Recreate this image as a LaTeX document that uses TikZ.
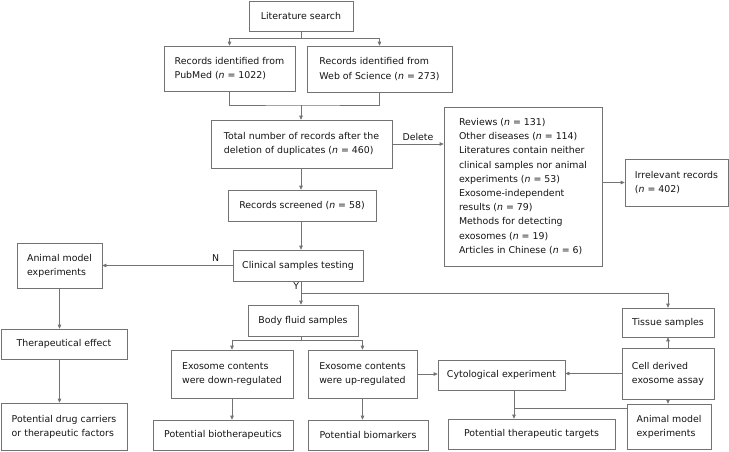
\documentclass[tikz,border=0pt]{standalone}
\usepackage{fontspec}
\setmainfont{DejaVu Sans}
\usetikzlibrary{arrows.meta}

\tikzset{
	box/.style={draw=black!55, line width=0.6pt, align=left, inner sep=2pt, text=black!92},
	flow/.style={-{Triangle[length=4pt,width=3.5pt]}},
}
\newcommand{\nn}{\textit{n}}

\begin{document}
\begin{tikzpicture}[x=1pt, y=-1pt, line width=0.6pt, draw=black!55,
	font=\fontsize{9.4}{14.2}\selectfont]
	\useasboundingbox (0,0) rectangle (729,451);
	% top part
	\node[box, minimum width=104, minimum height=30] (lit) at (301,16) {Literature search};
	\node[box, minimum width=131, minimum height=45] (pub) at (229.5,68.5) {Records identified from\\PubMed (\nn{} = 1022)};
	\node[box, minimum width=145, minimum height=46] (wos) at (379.5,69) {Records identified from\\Web of Science (\nn{} = 273)};
	\node[box, minimum width=181, minimum height=48] (tot) at (301.5,144) {Total number of records after the\\deletion of duplicates (\nn{} = 460)};
	\node[box, minimum width=158, minimum height=159] (del) at (523,186.5) {Reviews (\nn{} = 131)\\Other diseases (\nn{} = 114)\\Literatures contain neither\\clinical samples nor animal\\experiments (\nn{} = 53)\\Exosome-independent\\results (\nn{} = 79)\\Methods for detecting\\exosomes (\nn{} = 19)\\Articles in Chinese (\nn{} = 6)};
	\node[box, minimum width=103, minimum height=47] (irr) at (676.5,182.5) {Irrelevant records\\(\nn{} = 402)};
	\node[box, minimum width=148, minimum height=31] (scr) at (302,205.5) {Records screened (\nn{} = 58)};
	\node[box, minimum width=130, minimum height=31] (cli) at (298,265.5) {Clinical samples testing};
	% left branch
	\node[box, minimum width=85, minimum height=45] (ani1) at (59.5,265.5) {Animal model\\experiments};
	\node[box, minimum width=126, minimum height=30] (eff) at (64,344) {Therapeutical effect};
	\node[box, minimum width=126, minimum height=47] (drug) at (64,426.5) {Potential drug carriers\\or therapeutic factors};
	% body fluid branch
	\node[box, minimum width=110, minimum height=31] (body) at (303,320.5) {Body fluid samples};
	\node[box, minimum width=122, minimum height=48] (down) at (232,374) {Exosome contents\\were down-regulated};
	\node[box, minimum width=109, minimum height=48] (up) at (362.5,374) {Exosome contents\\were up-regulated};
	\node[box, minimum width=140, minimum height=30] (bther) at (223,435) {Potential biotherapeutics};
	\node[box, minimum width=120, minimum height=30] (bmark) at (368,435) {Potential biomarkers};
	% tissue branch
	\node[box, minimum width=127, minimum height=30] (cyto) at (501.5,375) {Cytological experiment};
	\node[box, minimum width=92, minimum height=29] (tis) at (668,322.5) {Tissue samples};
	\node[box, minimum width=92, minimum height=51] (cell) at (668,373.5) {Cell derived\\exosome assay};
	\node[box, minimum width=84, minimum height=45] (ani2) at (669,426.5) {Animal model\\experiments};
	\node[box, minimum width=167, minimum height=30] (targ) at (531.5,434) {Potential therapeutic targets};

	\coordinate (s1) at (301,38);
	\coordinate (m1) at (301,105);
	\coordinate (y1) at (301,293);
	\coordinate (b1) at (301,340);
	\coordinate (c1) at (514,408);

	\draw (lit.south) -- (s1);
	\draw[flow] (s1) -| (pub.north);
	\draw[flow] (s1) -| (wos.north);
	\draw (pub.south) |- (m1) -| (wos.south);
	\draw[flow] (m1) -- (m1 |- tot.north);
	\draw[flow] (tot.east) -- node[above, text=black!92, pos=0.5] {Delete} (tot.east -| del.west);
	\draw[flow] (del.east |- irr) -- (irr.west);
	\draw[flow] (tot.south -| m1) -- (m1 |- scr.north);
	\draw[flow] (scr.south -| m1) -- (m1 |- cli.north);
	\draw[flow] (cli.west) -- node[above, pos=0.13, text=black!92] {N} (ani1.east);
	\draw[flow] (ani1.south) -- (ani1.south |- eff.north);
	\draw[flow] (ani1.south |- eff.south) -- (ani1.south |- drug.north);
	\draw (cli.south -| y1) -- node[left, pos=0.45, text=black!92, inner sep=1.5pt] {Y} (y1);
	\draw[flow] (y1) -- (y1 |- body.north);
	\draw[flow] (y1) -| (tis.north);
	\draw (body.south -| b1) -- (b1);
	\draw[flow] (b1) -| (down.north);
	\draw[flow] (b1) -| (up.north);
	\draw[flow] (down.south) -- (down.south |- bther.north);
	\draw[flow] (up.south) -- (up.south |- bmark.north);
	\draw[flow] (up.east) -- (up.east -| cyto.west);
	\draw[flow] (cell.west) -- (cell.west -| cyto.east);
	\draw[flow] (cell.north) -- (tis.south);
	\draw[flow] (cell.south) -- (cell.south |- ani2.north);
	\draw[flow] (cyto.south -| c1) -- (c1 |- targ.north);
	\draw (ani2.west |- c1) -- (c1);
\end{tikzpicture}
\end{document}
